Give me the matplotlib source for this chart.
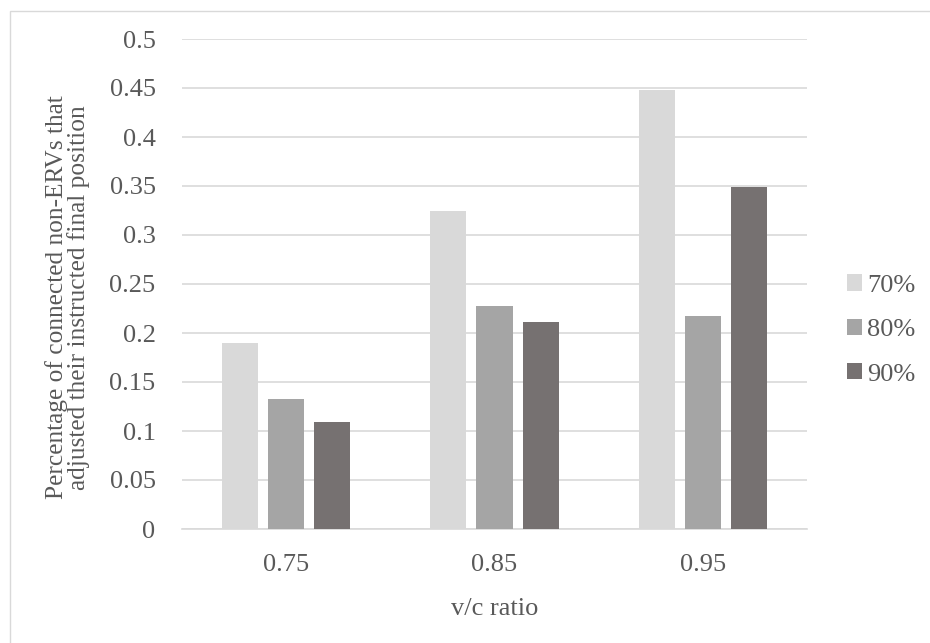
import numpy as np
import matplotlib.pyplot as plt
from matplotlib.patches import Rectangle

categories = ['0.75', '0.85', '0.95']
series_names = ['70%', '80%', '90%']
values_70 = [0.190, 0.325, 0.448]
values_80 = [0.133, 0.228, 0.217]
values_90 = [0.109, 0.211, 0.349]
colors = ['#D9D9D9', '#A5A5A5', '#767171']

plt.rcParams['font.family'] = ['Liberation Serif', 'DejaVu Serif']
text_color = '#595959'

fig = plt.figure(figsize=(9.3, 6.43), dpi=100)
fig.patch.set_facecolor('white')

# chart area border (light gray, like the Excel chart frame)
fig.patches.append(Rectangle((10 / 930, -0.01), 1.0, 1 - 11 / 643 + 0.01,
                             transform=fig.transFigure, fill=False,
                             edgecolor='#D9D9D9', linewidth=1.0))

ax = fig.add_axes([182 / 930, (643 - 529) / 643, 625 / 930, 490 / 643])

x = np.arange(len(categories))
bw = 0.173
step = 0.221
for i, (vals, name) in enumerate(zip([values_70, values_80, values_90], series_names)):
    ax.bar(x + (i - 1) * step, vals, width=bw, color=colors[i], label=name,
           zorder=3)

ax.set_xlim(-0.5, len(categories) - 0.5)
ax.set_ylim(0, 0.5)
ax.set_yticks(np.arange(0, 0.501, 0.05))
ax.set_yticklabels(['0'] + [f'{v:g}' for v in np.arange(0.05, 0.501, 0.05).round(2)])
ax.set_xticks(x)
ax.set_xticklabels(categories)
ax.grid(axis='y', color='#D9D9D9', linewidth=1.2, zorder=0)
ax.tick_params(length=0, labelsize=19, colors=text_color)
ax.tick_params(axis='y', pad=19)
ax.tick_params(axis='x', pad=18)
for s in ['top', 'right', 'left']:
    ax.spines[s].set_visible(False)
ax.spines['bottom'].set_color('#D9D9D9')
ax.spines['bottom'].set_linewidth(1.2)

ax.set_xlabel('v/c ratio', fontsize=19, color=text_color, labelpad=16)
ax.set_ylabel('Percentage of connected non-ERVs that\nadjusted their instructed final position',
              fontsize=18.3, color=text_color, linespacing=0.95)
ax.yaxis.set_label_coords(-0.147, 0.473)

leg = ax.legend(loc='center left', bbox_to_anchor=(1.064, 0.406), frameon=False,
                fontsize=19, handlelength=0.57, handleheight=0.57,
                handletextpad=0.2, labelspacing=0.83, borderpad=0,
                borderaxespad=0)
for t in leg.get_texts():
    t.set_color(text_color)

fig.savefig('out.png', dpi=100, facecolor='white')
